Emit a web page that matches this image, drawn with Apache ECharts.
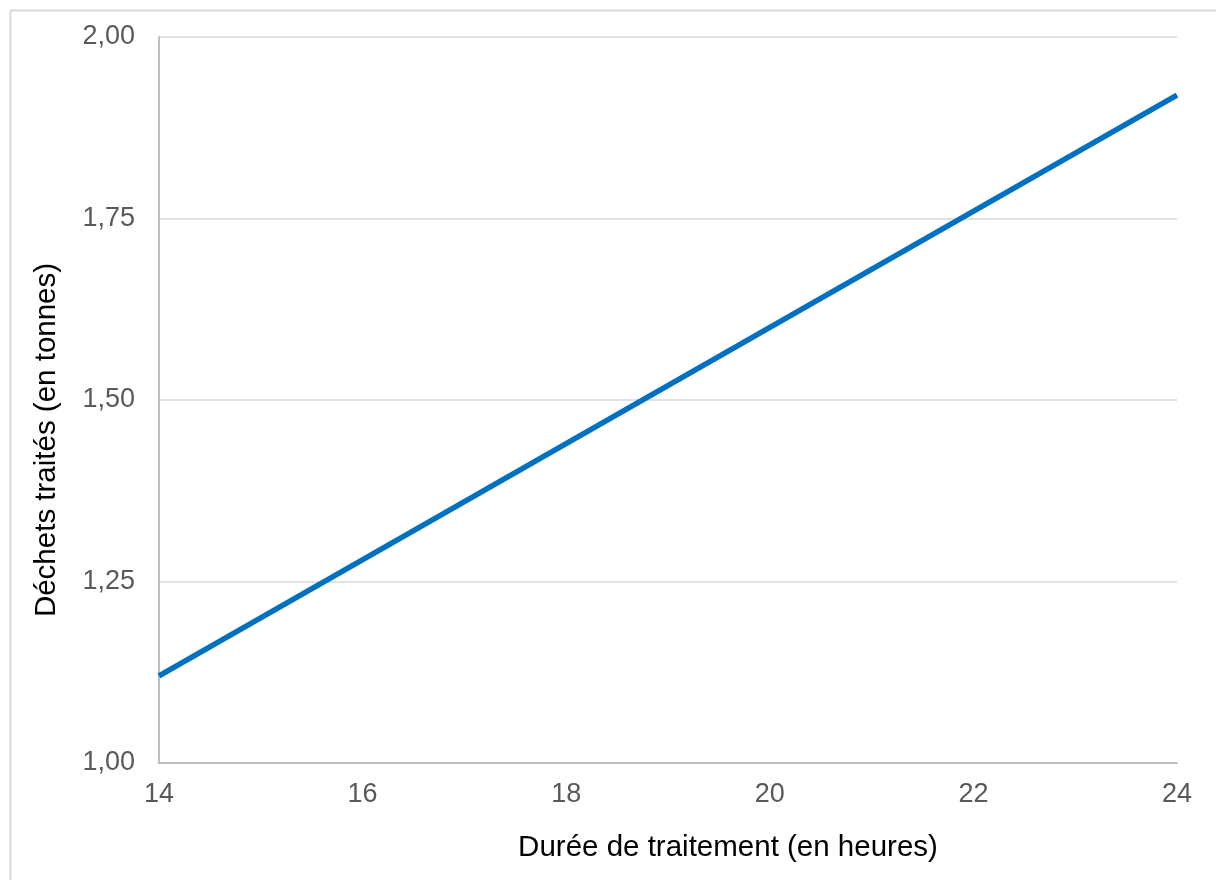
<!DOCTYPE html>
<html>
<head>
<meta charset="utf-8">
<script src="https://cdn.jsdelivr.net/npm/echarts@6/dist/echarts.min.js"></script>
<style>
html,body{margin:0;padding:0;background:#fff;}
#chart{width:1216px;height:880px;}
</style>
</head>
<body>
<div id="chart"></div>
<script>
const hours = [14, 24];
const tonnes = [1.12, 1.92];
const xTitle = 'Durée de traitement (en heures)';
const yTitle = 'Déchets traités (en tonnes)';

const chart = echarts.init(document.getElementById('chart'), null, {renderer: 'canvas'});
const font = 'Liberation Sans, Arial, sans-serif';
chart.setOption({
  backgroundColor: '#fff',
  animation: false,
  grid: {left: 159, right: 39, top: 37, bottom: 117},
  xAxis: {
    type: 'value', min: 14, max: 24, interval: 2,
    axisLine: {show: true, lineStyle: {color: '#bfbfbf', width: 2}},
    axisTick: {show: false},
    splitLine: {show: false},
    axisLabel: {color: '#595959', fontSize: 27, fontFamily: font, margin: 18}
  },
  yAxis: {
    type: 'value', min: 1, max: 2, interval: 0.25,
    axisLine: {show: true, lineStyle: {color: '#bfbfbf', width: 2}},
    axisTick: {show: false},
    splitLine: {show: true, lineStyle: {color: '#d9d9d9', width: 1.5}},
    axisLabel: {color: '#595959', fontSize: 27, fontFamily: font, margin: 24,
      formatter: v => v.toFixed(2).replace('.', ',')}
  },
  graphic: [
    {type: 'rect', left: 8, top: 8, shape: {width: 1400, height: 1000},
      style: {fill: 'none', stroke: '#d9d9d9', lineWidth: 2}, z: -1, silent: true},
    {type: 'text', x: 728, y: 848, style: {text: xTitle, fill: '#000', font: '29.5px ' + font,
      textAlign: 'center', textVerticalAlign: 'middle'}},
    {type: 'text', x: 47, y: 440, rotation: Math.PI / 2, style: {text: yTitle, fill: '#000', font: '29.5px ' + font,
      textAlign: 'center', textVerticalAlign: 'middle'}}
  ],
  series: [{
    type: 'line',
    data: hours.map((h, i) => [h, tonnes[i]]),
    showSymbol: false,
    lineStyle: {color: '#0070C0', width: 5.5},
    itemStyle: {color: '#0070C0'}
  }]
});
</script>
</body>
</html>
